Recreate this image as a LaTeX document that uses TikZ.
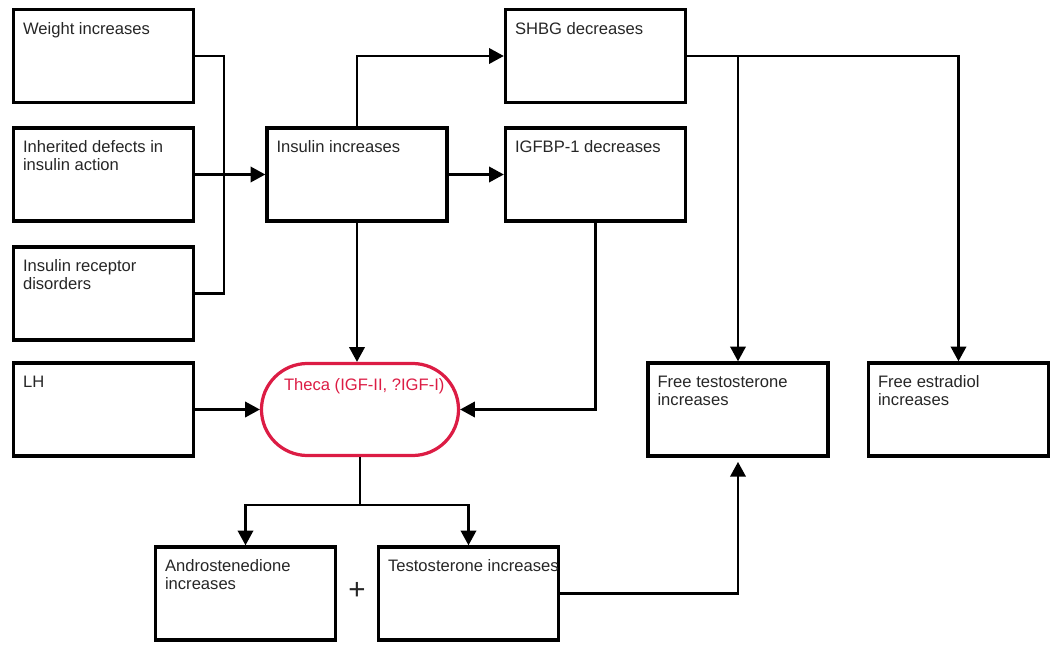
\documentclass[tikz,border=0pt]{standalone}
\usepackage{fontspec}
\setmainfont{Liberation Sans}
\usetikzlibrary{arrows.meta, calc, shapes.misc}
\definecolor{thecared}{RGB}{220,28,68}
\tikzset{
  txt/.style   = {font=\fontsize{11.8}{12.8}\selectfont, align=left, inner sep=0pt,
                  text=black!85},
  box/.style   = {draw=black, line width=2.4pt, minimum width=4.5cm,
                  minimum height=2.325cm, inner sep=0pt,
                  label={[txt, anchor=north west, xshift=7.8pt, yshift=-10pt]north west:{#1}}},
  theca/.style = {draw=thecared, rounded rectangle, line width=2.3pt,
                  minimum width=4.925cm, minimum height=2.3cm, inner sep=0pt,
                  label={[txt, text=thecared, anchor=north, xshift=3pt, yshift=-11.5pt]north:{#1}}},
  sig/.style   = {-{Triangle[length=10.5pt, width=11pt]}, line width=1.6pt},
  wire/.style  = {line width=1.6pt},
}

\begin{document}
\begin{tikzpicture}[x=0.025cm, y=-0.025cm]
  \useasboundingbox (0,0) rectangle (1050,648);

  % causes
  \node[box={Weight increases}] (weight) at (103.5,56) {};
  \node[box={Inherited defects in\\insulin action}] (inherit) at (103.5,174.5) {};
  \node[box={Insulin receptor\\disorders}] (recep) at (103.5,293.5) {};
  \node[box={LH}] (lh) at (103.5,409.5) {};

  \node[box={Insulin increases}] (insulin) at (357,174.5) {};
  \node[box={SHBG decreases}] (shbg) at (595.5,56) {};
  \node[box={IGFBP-1 decreases}] (igfbp) at (595.5,174.5) {};
  \node[theca={Theca (IGF-II, ?IGF-I)}] (theca) at (360,409.5) {};

  \node[box={Free testosterone\\increases}] (freet) at (738,409.5) {};
  \node[box={Free estradiol\\increases}] (freee) at (958.5,409.5) {};
  \node[box={Androstenedione\\increases}] (andro) at (245.5,593.5) {};
  \node[box={Testosterone increases}] (testo) at (468.5,593.5) {};
  \node[txt, font=\fontsize{21}{21}\selectfont] (plus) at (357,591) {+};

  % connectors
  \draw[wire] (weight.east) -- ++(29,0) |- (recep.east);
  \draw[sig] (inherit) -- (insulin);
  \draw[sig] (insulin.north) |- (shbg.west);
  \draw[sig] (insulin) -- (igfbp);
  \draw[sig] (insulin.south) -- (insulin.south |- theca.north);
  \draw[sig] (lh) -- (theca);
  \draw[sig] (igfbp.south) |- (theca.east);

  \coordinate (split) at (freet.north |- shbg.east);
  \draw[sig] (shbg.east) -| (freee.north);
  \draw[sig] (split) -- (freet.north);

  \coordinate (fork) at ($(theca.south)+(0,48)$);
  \draw[wire] (theca.south) -- (fork);
  \draw[sig] (fork) -| (andro.north);
  \draw[sig] (fork) -| (testo.north);
  \draw[sig, shorten >=3pt] (testo.east) -| (freet.south);
\end{tikzpicture}
\end{document}
